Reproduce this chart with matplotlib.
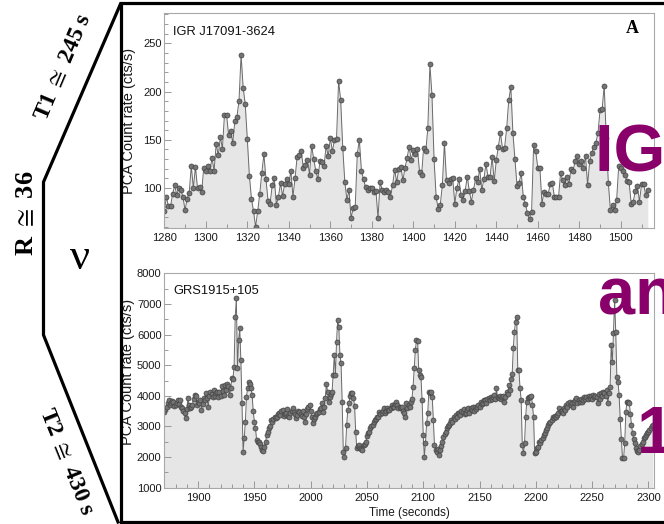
import matplotlib
matplotlib.use("Agg")

import numpy as np
import matplotlib.pyplot as plt
from matplotlib.lines import Line2D
from matplotlib.ticker import MultipleLocator

# IGR J17091-3624 PCA light curve, 1 s bins from t = 1280 s
igr_start = 1280
igr_rate = [
    76, 91, 81, 81, 94, 103, 93, 100, 98, 91,
    77, 89, 95, 123, 100, 122, 100, 101, 96, 121,
    118, 123, 118, 131, 118, 146, 134, 153, 141, 176,
    176, 155, 159, 147, 169, 174, 190, 238, 204, 187,
    151, 113, 89, 76, 60, 76, 94, 116, 135, 109,
    87, 84, 103, 110, 83, 91, 105, 92, 104, 109,
    104, 118, 91, 110, 132, 134, 138, 121, 124, 129,
    114, 144, 130, 118, 109, 128, 127, 123, 144, 133,
    152, 138, 150, 151, 211, 191, 142, 106, 88, 98,
    69, 79, 80, 135, 150, 118, 109, 101, 98, 100,
    100, 96, 97, 69, 106, 98, 96, 98, 96, 91,
    103, 119, 106, 120,
    122, 108, 121, 131, 143, 129, 139, 135, 141,
    117, 114, 142, 138, 162, 228, 196, 130, 91, 78,
    83, 103, 147, 108, 105, 109, 110, 84, 100,
    109, 93, 88, 97, 112, 97, 86, 98, 110, 106,
    120, 98, 109, 125, 112, 112, 132, 107, 129, 143,
    157, 141, 142, 162, 191, 205, 157, 130, 102, 105,
    116, 91, 84, 74, 68, 75, 145, 138, 121, 121,
    84, 96, 94, 94, 104, 105, 91, 91, 91, 116,
    108, 103, 112, 104, 120, 118, 128, 133, 125, 128,
    121, 133, 103, 128, 136, 143, 147, 157, 181, 182,
    206, 152, 105, 77, 82, 77, 88, 123, 121, 118,
    114, 107, 106, 84, 86, 97, 102, 86, 104, 104,
    93, 98,
]

# GRS 1915+105 PCA light curve, 1 s bins from t = 1870 s
grs_start = 1870
grs_rate = [
    3480, 3560, 3650, 3760, 3860, 3700, 3750, 3820, 3810, 3660,
    3700, 3780, 3860, 3720, 3860, 3640, 3590, 3500, 3430, 3260,
    3560, 3920, 3700, 3590, 3650, 3700, 3880, 4020, 3980, 3700,
    3810, 3760, 3860, 3540, 3720, 3920, 3850, 4080, 3920, 3640,
    3990, 4130, 4050, 3970, 4190, 4000, 4080, 4120, 3970, 4130,
    4000, 4320, 4150, 4020, 4350, 4200, 4400, 4320, 4020, 4240,
    4570, 4560, 4950, 6580, 7180, 4900, 5820, 6200, 5170, 3750,
    2180, 2610, 3150, 3970, 4240, 4460, 4380, 4240, 4020, 3500,
    3150, 2940, 2560, 2500, 2500, 2420, 2340, 2230, 2200, 2340,
    2500, 2720, 2820, 2940, 3000, 3210, 3150, 3230, 3320, 3260,
    3320, 3400, 3450, 3380, 3500, 3530, 3350, 3420, 3430, 3560,
    3330, 3320, 3450, 3500, 3590, 3480, 3400, 3260, 3380, 3520,
    3480, 3400, 3350, 3500, 3300, 3150, 3420, 3560, 3640, 3700,
    3500, 3300, 3100, 3250, 3320, 3400, 3450, 3480, 3560, 3600,
    3750, 3480, 3650, 3920, 4400, 4130, 3800, 3970, 4050, 4130,
    4680, 5330, 4680, 5770, 6470, 6250, 5330, 5060, 3800, 2180,
    2010, 2300, 3050, 3530, 3750, 4000, 4080, 4080, 3920, 3680,
    2830, 2280, 2350, 2390, 2280, 2250, 2230, 2390, 2420, 2500,
    2700, 2780, 2830, 2950, 3000, 3050, 3150, 3210, 3250, 3320,
    3300, 3480, 3400, 3430, 3500, 3590, 3450, 3520, 3600, 3550,
    3530, 3600, 3700, 3650, 3640, 3720, 3810, 3700, 3590, 3650,
    3590, 3650, 3500, 3450, 3320, 3750, 3600, 3700, 3650, 3810,
    3900, 4300, 4900, 5490, 5820, 5800, 4840, 4680, 4600, 3860,
    2720, 2010, 2450, 3100, 3430, 4130, 4100, 4130, 3970, 3210,
    2390, 2230, 2180, 2250, 2070, 2230, 2350, 2500, 2660, 2750,
    2830, 2950, 3000, 3050, 3100, 3210, 3150, 3320, 3250, 3370,
    3300, 3450, 3430, 3380, 3500, 3480, 3560, 3400, 3430, 3550,
    3590, 3450, 3600, 3530, 3620, 3500, 3640, 3580, 3650, 3700,
    3620, 3810, 3720, 3750, 3850, 3860, 3780, 3900, 3920, 3850,
    3970, 3900, 3950, 4020, 3880, 4240, 3950, 3920, 4000, 3880,
    3970, 4000, 3810, 3950, 4130, 4050, 4350, 4200, 4540, 4700,
    5550, 6090, 6420, 6580, 4840, 4840, 4240, 3860, 2390, 2120,
    2450, 3320, 3810, 3920, 3950, 3970, 4000, 3700, 3320, 2120,
    2180, 2300, 2340, 2500, 2450, 2560, 2620, 2720, 2800, 2880,
    2950, 3050, 3100, 3150, 3210, 3300, 3260, 3350, 3300, 3370,
    3450, 3590, 3500, 3520, 3430, 3600, 3550, 3700, 3650, 3750,
    3810, 3700, 3750, 3640, 3800, 3850, 3920, 3780, 3850, 3810,
    3900, 3800, 3860, 3950, 3880, 3970, 3900, 4000, 3920, 3980,
    3900, 4020, 3950, 4000, 3970, 3750, 4050, 3900, 4080, 4000,
    4130, 4100, 4000, 4190, 3750, 4080, 4300, 5660, 5110, 6060,
    7130, 6090, 4620, 4460, 4020, 3230, 2600, 1960, 1960, 2470,
    3480, 3790, 3800, 3780, 3400, 3050, 2770, 2600, 2450, 2280,
    2200, 2180, 2230, 2360, 2420, 2500, 2610, 2650, 2720, 2780,
    2830, 2900, 2950, 3000, 3050,
]

igr_t = igr_start + np.arange(len(igr_rate))
grs_t = grs_start + np.arange(len(grs_rate))

plt.rcParams['mathtext.fontset'] = 'stix'

# canvas in pixels, everything below is laid out in pixel units
W, H = 664, 524

def fx(px):
    return px / float(W)

def fy(py):
    return 1.0 - py / float(H)

sans = ['Liberation Sans', 'DejaVu Sans']
serif = ['Liberation Serif', 'DejaVu Serif']

fig = plt.figure(figsize=(W / 100., H / 100.), dpi=100)

ax1 = fig.add_axes([fx(164.3), fy(227.7), fx(654) - fx(164.3), fy(13.3) - fy(227.7)])
ax2 = fig.add_axes([fx(164.3), fy(487.7), fx(654) - fx(164.3), fy(273.3) - fy(487.7)])


def light_curve(ax, t, rate, ymin):
    ax.fill_between(t, ymin, rate, color='#e6e6e6', lw=0)
    ax.plot(t, rate, '-', color='#6a6a6a', lw=0.7, marker='o', ms=3.6,
            mfc='#747474', mec='#424242', mew=0.5)


def style_axes(ax):
    for side in ax.spines:
        ax.spines[side].set_color('#a8a8a8')
        ax.spines[side].set_linewidth(0.8)
    ax.tick_params(which='both', direction='in', color='#8a8a8a', width=0.6,
                   top=False, right=False, labelsize=8, labelcolor='#1a1a1a')
    ax.tick_params(which='major', length=5)
    ax.tick_params(which='minor', length=3)
    ax.tick_params(axis='x', pad=4)
    ax.tick_params(axis='y', pad=2)
    for lab in ax.get_xticklabels() + ax.get_yticklabels():
        lab.set_family(sans)


# top panel: IGR J17091-3624
light_curve(ax1, igr_t, igr_rate, 59)
ax1.set_xlim(1280, 1516)
ax1.set_ylim(59, 281)
ax1.xaxis.set_major_locator(MultipleLocator(20))
ax1.xaxis.set_minor_locator(MultipleLocator(10))
ax1.yaxis.set_major_locator(MultipleLocator(50))
ax1.yaxis.set_minor_locator(MultipleLocator(10))
style_axes(ax1)
ax1.set_ylabel('PCA Count rate (cts/s)', fontsize=10.5, family=sans, color='#1a1a1a')
ax1.yaxis.set_label_coords(-0.058, 0.5)
ax1.text(0.018, 0.915, 'IGR J17091-3624', transform=ax1.transAxes, ha='left',
         va='center', fontsize=9.3, family=sans, color='#111111')
ax1.text(0.955, 0.93, 'A', transform=ax1.transAxes, ha='center', va='center',
         fontsize=13, fontweight='bold', family=serif, color='black')

# bottom panel: GRS 1915+105
light_curve(ax2, grs_t, grs_rate, 1000)
ax2.set_xlim(1870, 2305)
ax2.set_ylim(1000, 8000)
ax2.xaxis.set_major_locator(MultipleLocator(50))
ax2.xaxis.set_minor_locator(MultipleLocator(10))
ax2.yaxis.set_major_locator(MultipleLocator(1000))
ax2.yaxis.set_minor_locator(MultipleLocator(500))
style_axes(ax2)
ax2.set_ylabel('PCA Count rate (cts/s)', fontsize=10.5, family=sans, color='#1a1a1a')
ax2.yaxis.set_label_coords(-0.06, 0.54)
ax2.set_xlabel('Time (seconds)', fontsize=8.5, family=sans, color='#1a1a1a')
ax2.xaxis.set_label_coords(0.5, -0.088)
ax2.text(0.018, 0.917, 'GRS1915+105', transform=ax2.transAxes, ha='left',
         va='center', fontsize=9.3, family=sans, color='#111111')

# outer box and the bracket on the left
fig.add_artist(Line2D([fx(680), fx(120.5), fx(120.5), fx(680)],
                      [fy(3.3), fy(3.3), fy(522), fy(522)],
                      transform=fig.transFigure, color='black', lw=2.3,
                      solid_joinstyle='miter'))
fig.add_artist(Line2D([fx(120.5), fx(43.5), fx(43.5), fx(118)],
                      [fy(4), fy(182), fy(335), fy(522)],
                      transform=fig.transFigure, color='black', lw=2.3,
                      solid_joinstyle='miter'))

fig.text(fx(64), fy(67), r'T1 $\cong$ 245 s', rotation=67, rotation_mode='anchor',
         ha='center', va='center', fontsize=17, fontweight='bold', family=serif)
fig.text(fx(27), fy(213), r'R $\cong$ 36', rotation=90, rotation_mode='anchor',
         ha='center', va='center', fontsize=19, fontweight='bold', family=serif)
fig.text(fx(80), fy(258), u'\u03bd', ha='center', va='center', fontsize=32,
         family=serif)
fig.text(fx(66), fy(462), r'T2 $\cong$ 430 s', rotation=-68, rotation_mode='anchor',
         ha='center', va='center', fontsize=17, fontweight='bold', family=serif)

# large overlay captions running off the right edge
purple = '#8a006a'
fig.text(fx(595), fy(171), 'IGR J17091', ha='left', va='baseline', fontsize=48,
         fontweight='bold', family=sans, color=purple)
fig.text(fx(598), fy(313), 'and', ha='left', va='baseline', fontsize=48,
         fontweight='bold', family=sans, color=purple)
fig.text(fx(637), fy(453), '1915', ha='left', va='baseline', fontsize=48,
         fontweight='bold', family=sans, color=purple)

fig.savefig('out.png', dpi=100)
